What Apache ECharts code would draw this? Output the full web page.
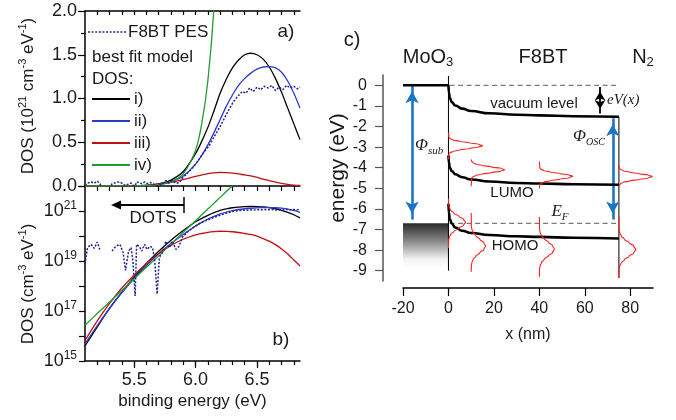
<!DOCTYPE html>
<html><head><meta charset="utf-8">
<script src="https://cdn.jsdelivr.net/npm/echarts@6/dist/echarts.min.js"></script>
<style>html,body{margin:0;padding:0;background:#fff}#c{width:676px;height:420px}</style>
</head><body><div id="c"></div>
<script>
// ---------------- Panels a) and b) : DOS vs binding energy ----------------
// binding energy grid (eV) of the model DOS curves
const energy = [5.1,5.2,5.3,5.4,5.5,5.6,5.7,5.8,5.9,6.0,6.05,6.1,6.15,6.2,6.25,6.3,6.35,6.4,6.45,6.5,6.55,6.6,6.65,6.7,6.75,6.8,6.85];
// model DOS, units of 1e21 cm^-3 eV^-1
const dosI   = [4.0e-6,2.3e-5,1.3e-4,5.6e-4,2.24e-3,7.9e-3,0.0245,0.068,0.165,0.37,0.51,0.67,0.86,1.06,1.22,1.35,1.44,1.50,1.517,1.50,1.45,1.36,1.23,1.07,0.89,0.71,0.53];
const dosII  = [4.8e-6,2.6e-5,1.26e-4,5.4e-4,2.0e-3,6.6e-3,0.0195,0.050,0.115,0.25,0.35,0.47,0.61,0.76,0.91,1.04,1.15,1.23,1.29,1.335,1.36,1.365,1.35,1.30,1.20,1.06,0.89];
const dosIII = [6.5e-6,4.0e-5,2.0e-4,8.3e-4,2.7e-3,7.9e-3,0.020,0.042,0.074,0.110,0.126,0.141,0.151,0.155,0.153,0.148,0.138,0.126,0.115,0.098,0.079,0.062,0.045,0.030,0.019,0.011,0.0063];
const dosIV  = [2.7e-5,7.9e-5,2.3e-4,6.6e-4,1.95e-3,5.6e-3,0.016,0.048,0.14,0.41,0.71,1.2,2.05,3.5,6.0,10.2,17.5,null,null,null,null,null,null,null,null,null,null];
// F8BT photoemission spectrum
const pesE = [5.10,5.12,5.15,5.175,5.20,5.22,5.24,5.26,5.28,5.30,5.32,5.35,5.385,5.41,5.43,5.455,5.475,5.49,5.508,5.52,5.54,5.563,5.585,5.605,5.63,5.65,5.668,5.687,5.705,5.73,5.758,5.785,5.81,5.84,5.866,5.89,5.93,5.97,6.0,6.03,6.07,6.11,6.15,6.2,6.24,6.27,6.30,6.34,6.38,6.41,6.44,6.47,6.50,6.53,6.56,6.59,6.62,6.65,6.68,6.71,6.74,6.77,6.80,6.83,6.85];
const pesV = [0.0074,0.034,0.046,0.032,0.057,0.029,-0.02,-0.04,-0.01,-0.03,0.025,0.039,0.046,0.022,0.0042,0.025,0.034,0.010,0.0004,0.046,0.039,0.025,0.046,0.029,0.039,0.034,0.010,0.00048,0.0137,0.022,0.062,0.034,0.062,0.029,0.039,0.085,0.14,0.2,0.25,0.31,0.39,0.46,0.56,0.68,0.79,0.87,0.945,1.02,1.08,1.06,1.12,1.08,1.13,1.10,1.14,1.12,1.15,1.09,1.13,1.10,1.15,1.12,1.14,1.11,1.13];
// tick values
const eTicksMajor = [5.5,6.0,6.5];
const eTicksMinor = [5.2,5.3,5.4,5.5,5.6,5.7,5.8,5.9,6.0,6.1,6.2,6.3,6.4,6.5,6.6,6.7,6.8];

// ---------------- Panel c) : band diagram ----------------
const moX = [-20,0], moE = [0,0];
const vacX  = [0,0.2,0.6,1.5,3,6,10,18,30,40,55,75];
const vacE  = [0,-0.35,-0.62,-0.82,-0.98,-1.13,-1.25,-1.36,-1.43,-1.46,-1.5,-1.53];
const lumoX = [0,0.2,0.6,1.5,3,6,10,18,30,40,55,75];
const lumoE = [-3.4,-3.75,-4.0,-4.17,-4.32,-4.46,-4.57,-4.67,-4.74,-4.77,-4.8,-4.83];
const homoX = [0,0.2,0.6,1.5,3,6,10,18,30,40,55,75];
const homoE = [-5.75,-6.2,-6.5,-6.72,-6.9,-7.06,-7.17,-7.27,-7.33,-7.36,-7.4,-7.44];
const vacRefX = [0.5,75], vacRefE = [0,0];
const efX = [0.5,75], efE = [-6.7,-6.7];
const ifaceX = [0,0], ifaceE = [0.45,-9.0];
const backX = [75,75], backE = [-1.53,-9.35];
const blockX = [-20,0], blockE = [-6.7,-8.9];
// red DOS gaussians
const redX0     = [0,0,10,10,40,40,75,75];
const redCenter = [-2.93,-6.65,-4.1,-7.8,-4.42,-7.95,-4.43,-7.97];
const redSigma  = [0.14,0.29,0.14,0.33,0.14,0.33,0.14,0.33];
const redAmp    = [15,7.5,14.7,6.3,14.7,6.6,14.7,7.4];
const redTop    = [-2.3,-5.5,-3.6,-6.2,-3.7,-6.4,-3.9,-6.4];
const redBottom = [-3.6,-7.9,-4.9,-9.05,-5.0,-9.3,-4.9,-9.35];
const gaussK = [3,2.5,2,1.5,1,0.5,0,-0.5,-1,-1.5,-2,-2.5,-3];
const gaussF = [0.011,0.044,0.135,0.325,0.607,0.882,1,0.882,0.607,0.325,0.135,0.044,0.011];
// arrows (x, from, to)
const subArrow = [-16, 0, -6.52];
const oscArrow = [72.3, -1.6, -6.52];
const evArrow  = [66.7, -0.08, -1.37];
const xTicksC = [-20,0,20,40,60,80];
const eTicksC = [0,-1,-2,-3,-4,-5,-6,-7,-8,-9];

// ---------------- helpers ----------------
const FONT = "'Liberation Sans', Arial, Helvetica, sans-serif";
const SERIF = "'Liberation Serif', 'DejaVu Serif', serif";
const TXT = '#1a1a1a';
const zip = (a, b) => a.map((v, i) => [v, b[i]]);
const logData = (a, b) => a.map((v, i) => [v, (b[i] != null && b[i] > 0) ? b[i] * 1e21 : null]);
function gaussPath(i) {
  const pts = [[redX0[i], redTop[i]]];
  for (let j = 0; j < gaussK.length; j++) pts.push([redX0[i] + redAmp[i] * gaussF[j], redCenter[i] + gaussK[j] * redSigma[i]]);
  pts.push([redX0[i], redBottom[i]]);
  return pts;
}
const C = {i:'#000000', ii:'#2a3ad0', iii:'#c01010', iv:'#1e9e2e', pes:'#23238f'};

function lineS(name, data, color, xi, yi, extra) {
  return Object.assign({type:'line', name, data, xAxisIndex:xi, yAxisIndex:yi, showSymbol:false, symbol:'none',
    smooth:0.3, lineStyle:{color, width:1.3}, silent:true, animation:false, z:3}, extra||{});
}

const series = [];
[['i',dosI],['ii',dosII],['iii',dosIII],['iv',dosIV]].forEach(([k, arr]) => {
  series.push(lineS('a'+k, zip(energy, arr), C[k], 0, 0));
  series.push(lineS('b'+k, logData(energy, arr), C[k], 2, 1));
});
series.push(lineS('aPES', zip(pesE, pesV), C.pes, 0, 0, {smooth:false, lineStyle:{color:C.pes, width:1.5, type:[2,1.6]}, z:4}));
series.push(lineS('bPES', logData(pesE, pesV), C.pes, 2, 1, {smooth:false, lineStyle:{color:C.pes, width:1.5, type:[2,1.6]}, z:4}));

// panel c
series.push(lineS('MoO3vac', zip(moX, moE), '#000', 3, 2, {smooth:false, lineStyle:{color:'#000', width:2.6}, z:5,
  markArea:{silent:true, label:{show:false},
    itemStyle:{color:{type:'linear', x:0, y:0, x2:0, y2:1, colorStops:[{offset:0,color:'#2a2a2a'},{offset:0.4,color:'#8a8a8a'},{offset:0.8,color:'#f4f4f4'},{offset:1,color:'#ffffff'}]}},
    data:[[{coord:[blockX[0], blockE[0]]},{coord:[blockX[1], blockE[1]]}]]}}));
series.push(lineS('vacRef', zip(vacRefX, vacRefE), '#777', 3, 2, {smooth:false, lineStyle:{color:'#7a7a7a', width:1.3, type:[5,3.5]},
  markLine:{silent:true, animation:false, symbol:['arrow','arrow'], symbolSize:[10,12], symbolOffset:[[0,'50%'],[0,'50%']],
    label:{show:false}, lineStyle:{color:'#1b75c4', width:2.6, type:'solid'}, emphasis:{disabled:true},
    data:[[{coord:[subArrow[0], subArrow[1]]},{coord:[subArrow[0], subArrow[2]]}],
          [{coord:[oscArrow[0], oscArrow[1]]},{coord:[oscArrow[0], oscArrow[2]]}]]}}));
series.push(lineS('EF', zip(efX, efE), '#777', 3, 2, {smooth:false, lineStyle:{color:'#7a7a7a', width:1.3, type:[5,3.5]},
  markLine:{silent:true, animation:false, symbol:['arrow','arrow'], symbolSize:[8,9], symbolOffset:[[0,'50%'],[0,'50%']],
    label:{show:false}, lineStyle:{color:'#000', width:1.8, type:'solid'}, emphasis:{disabled:true},
    data:[[{coord:[evArrow[0], evArrow[1]]},{coord:[evArrow[0], evArrow[2]]}]]}}));
series.push(lineS('iface', zip(ifaceX, ifaceE), '#000', 3, 2, {smooth:false, lineStyle:{color:'#000', width:1}}));
series.push(lineS('back', zip(backX, backE), '#000', 3, 2, {smooth:false, lineStyle:{color:'#000', width:1}}));
series.push(lineS('vac', zip(vacX, vacE), '#000', 3, 2, {smooth:true, smoothMonotone:'x', lineStyle:{color:'#000', width:2.6}, z:5}));
series.push(lineS('lumo', zip(lumoX, lumoE), '#000', 3, 2, {smooth:true, smoothMonotone:'x', lineStyle:{color:'#000', width:2.6}, z:5}));
series.push(lineS('homo', zip(homoX, homoE), '#000', 3, 2, {smooth:true, smoothMonotone:'x', lineStyle:{color:'#000', width:2.6}, z:5}));
for (let i = 0; i < redX0.length; i++) {
  series.push(lineS('red'+i, gaussPath(i), '#ff2020', 3, 2, {smooth:true, smoothMonotone:'y', lineStyle:{color:'#ff2020', width:1.1}, z:6}));
}

// ---------------- axes ----------------
const blackLine = {show:true, onZero:false, lineStyle:{color:'#000', width:1.5}};
const tickStyle = {color:'#000', width:1.2};
const noSplit = {show:false};
const xAxis = [
  {gridIndex:0, type:'value', min:5.1, max:6.85, position:'bottom', axisLine:blackLine,
   axisTick:{show:true, inside:false, length:5, customValues:eTicksMinor, lineStyle:tickStyle}, axisLabel:{show:false}, splitLine:noSplit},
  {gridIndex:0, type:'value', min:5.1, max:6.85, position:'top', axisLine:blackLine,
   axisTick:{show:true, inside:true, length:4, customValues:eTicksMinor, lineStyle:tickStyle}, axisLabel:{show:false}, splitLine:noSplit},
  {gridIndex:1, type:'value', min:5.1, max:6.85, position:'bottom', axisLine:blackLine,
   axisTick:{show:true, length:7, customValues:eTicksMajor, lineStyle:tickStyle},
   axisLabel:{customValues:eTicksMajor, formatter:v => v.toFixed(1), fontSize:18, fontFamily:FONT, color:TXT, margin:10},
   name:'binding energy (eV)', nameLocation:'middle', nameGap:32, nameTextStyle:{fontSize:17, fontFamily:FONT, color:TXT},
   splitLine:noSplit},
  {gridIndex:2, type:'value', min:-20, max:90, position:'bottom', offset:7, axisLine:blackLine,
   axisTick:{show:true, length:8, customValues:xTicksC, lineStyle:tickStyle},
   axisLabel:{customValues:xTicksC, fontSize:16, fontFamily:FONT, color:TXT, margin:13},
   name:'x (nm)', nameLocation:'middle', nameGap:39, nameTextStyle:{fontSize:16, fontFamily:FONT, color:TXT},
   splitLine:noSplit},
  {gridIndex:3, type:'value', min:5.1, max:6.85, position:'bottom', axisLine:{show:false, onZero:false},
   axisTick:{show:true, length:4, customValues:eTicksMinor, lineStyle:tickStyle}, axisLabel:{show:false}, splitLine:noSplit}
];
const yAxis = [
  {gridIndex:0, type:'value', min:0, max:2, interval:0.5, axisLine:blackLine,
   axisTick:{show:true, length:7, lineStyle:tickStyle}, minorTick:{show:true, splitNumber:2, length:4, lineStyle:tickStyle},
   axisLabel:{formatter:v => v.toFixed(1), fontSize:18, fontFamily:FONT, color:TXT, margin:8}, splitLine:noSplit},
  {gridIndex:1, type:'log', logBase:10, min:1e15, max:1e22, axisLine:blackLine,
   axisTick:{show:true, length:6, lineStyle:tickStyle},
   axisLabel:{interval:0, margin:8, color:TXT, fontFamily:FONT,
     formatter:v => { const e = Math.round(Math.log10(v)); return (e % 2 === 1) ? '{b|10}{s|' + e + '}' : ''; },
     rich:{b:{fontSize:18, fontFamily:FONT, color:TXT, lineHeight:22}, s:{fontSize:12, fontFamily:FONT, color:TXT, lineHeight:12, verticalAlign:'top'}}},
   splitLine:noSplit},
  {gridIndex:2, type:'value', min:-9.5, max:0.5, offset:20, axisLine:{show:true, onZero:false, lineStyle:{color:'#555', width:1.5}},
   axisTick:{show:true, length:8, customValues:eTicksC, lineStyle:{color:'#555', width:1.2}},
   axisLabel:{customValues:eTicksC, fontSize:16, fontFamily:FONT, color:TXT, margin:16}, splitLine:noSplit},
  {gridIndex:3, type:'value', min:0, max:1, show:false, splitLine:noSplit}
];

// ---------------- text and legend ----------------
function T(x, y, text, size, extra) {
  const el = {type:'text', x, y, silent:true, z:100,
    style:Object.assign({text, fontSize:size, fontFamily:FONT, fill:TXT, align:'center', verticalAlign:'middle'}, (extra && extra.style) || {})};
  if (extra && extra.rotation != null) el.rotation = extra.rotation;
  return el;
}
function L(x1, y1, x2, y2, color, w, dash) {
  return {type:'line', silent:true, z:100, shape:{x1, y1, x2, y2}, style:{stroke:color, lineWidth:w, lineDash:dash || null}};
}
const supRich = (fs, ss) => ({n:{fontSize:fs, fontFamily:FONT, color:TXT, lineHeight:fs + 4}, s:{fontSize:ss, fontFamily:FONT, color:TXT, lineHeight:ss, verticalAlign:'top'}});
const subRich = (fam, fs, ss, col, ital) => ({n:{fontSize:fs, fontFamily:fam, fontStyle:ital ? 'italic' : 'normal', color:col, lineHeight:fs + 4},
  b:{fontSize:ss, fontFamily:fam, fontStyle:ital ? 'italic' : 'normal', color:col, lineHeight:ss, verticalAlign:'bottom'}});
const graphic = [
  // panel a legend
  L(88, 32, 127, 32, C.pes, 1.6, [2, 1.6]),
  T(128, 32, 'F8BT PES', 17, {style:{align:'left'}}),
  T(92, 57, 'best fit model', 17, {style:{align:'left'}}),
  T(92, 79, 'DOS:', 17, {style:{align:'left'}}),
  L(92, 99, 130, 99, C.i, 1.8), T(134, 99, 'i)', 17, {style:{align:'left'}}),
  L(92, 121, 130, 121, C.ii, 1.8), T(134, 121, 'ii)', 17, {style:{align:'left'}}),
  L(92, 143, 130, 143, C.iii, 1.8), T(134, 143, 'iii)', 17, {style:{align:'left'}}),
  L(92, 165, 130, 165, C.iv, 1.8), T(134, 165, 'iv)', 17, {style:{align:'left'}}),
  T(286, 32, 'a)', 19),
  T(281, 340, 'b)', 19),
  // DOTS arrow
  L(184, 205, 118, 205, '#000', 1.8), L(184, 197, 184, 213, '#000', 1.5),
  {type:'polygon', silent:true, z:100, shape:{points:[[111,205],[121,200.5],[121,209.5]]}, style:{fill:'#000'}},
  T(153, 218, 'DOTS', 17),
  // y titles a, b
  T(28, 96, '{n|DOS (10}{s|21}{n| cm}{s|-3}{n| eV}{s|-1}{n|)}', 17, {rotation:Math.PI/2, style:{rich:supRich(17, 11)}}),
  T(28, 284, '{n|DOS (cm}{s|-3}{n| eV}{s|-1}{n|)}', 17, {rotation:Math.PI/2, style:{rich:supRich(17, 11)}}),
  // panel c
  T(352, 40, 'c)', 20),
  T(428, 57, '{n|MoO}{b|3}', 20, {style:{rich:subRich(FONT, 20, 13, TXT, false)}}),
  T(543, 57, 'F8BT', 20),
  T(643, 57, '{n|N}{b|2}', 20, {style:{rich:subRich(FONT, 20, 13, TXT, false)}}),
  T(338, 168, 'energy (eV)', 21, {rotation:Math.PI/2}),
  T(534, 104, 'vacuum level', 15),
  T(512, 193, 'LUMO', 15),
  T(515, 246, 'HOMO', 15),
  T(560, 212, '{n|E}{b|F}', 16, {style:{rich:subRich(SERIF, 17, 11, TXT, true)}}),
  T(607, 100, 'eV(x)', 15, {style:{align:'left', fontFamily:SERIF, fontStyle:'italic'}}),
  T(415, 146, '{n|Φ}{b|sub}', 16, {style:{align:'left', rich:subRich(SERIF, 17, 11, '#4a86c8', true)}}),
  T(573, 137, '{n|Φ}{b|OSC}', 16, {style:{align:'left', rich:subRich(SERIF, 17, 10, '#4a86c8', true)}})
];

const chart = echarts.init(document.getElementById('c'), null, {renderer:'canvas'});
chart.setOption({
  animation:false,
  backgroundColor:'#ffffff',
  textStyle:{fontFamily:FONT},
  grid:[
    {left:85, top:11, width:215, height:175},
    {left:85, top:186, width:215, height:175},
    {left:403, top:75, width:250, height:206},
    {left:85, top:186, width:215, height:175}
  ],
  xAxis, yAxis, series, graphic
});
</script>
</body></html>
